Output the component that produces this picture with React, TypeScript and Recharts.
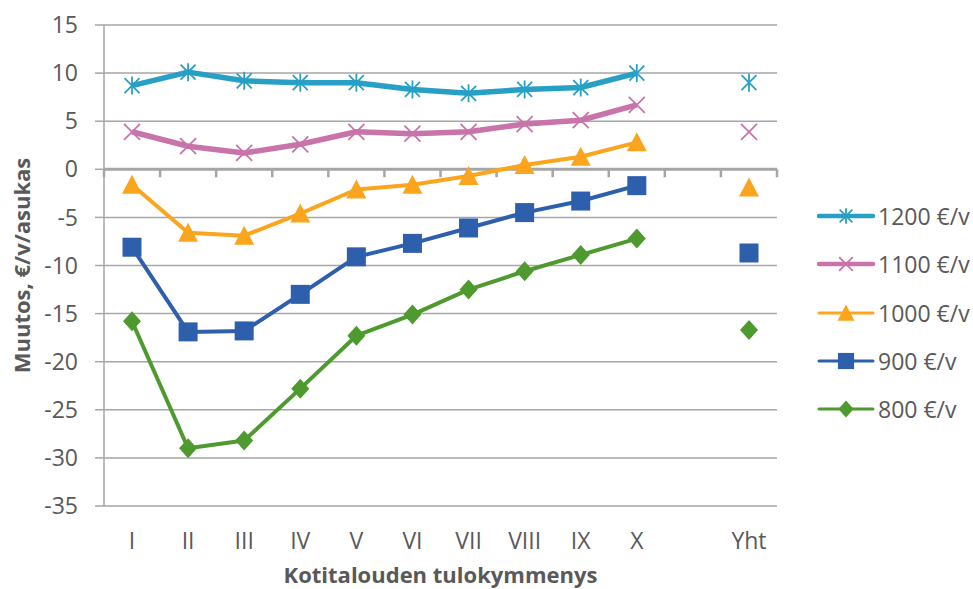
import React from 'react';
import { LineChart, Line, XAxis, YAxis, CartesianGrid, ReferenceLine } from 'recharts';

const categories = ['I', 'II', 'III', 'IV', 'V', 'VI', 'VII', 'VIII', 'IX', 'X', '', 'Yht'];

const s1200 = [8.7, 10.1, 9.2, 9.0, 9.0, 8.3, 7.9, 8.3, 8.5, 10.0, null, 9.0];
const s1100 = [3.9, 2.4, 1.7, 2.6, 3.9, 3.7, 3.9, 4.7, 5.1, 6.7, null, 3.9];
const s1000 = [-1.6, -6.6, -6.9, -4.6, -2.1, -1.6, -0.7, 0.45, 1.3, 2.8, null, -1.9];
const s900 = [-8.1, -16.9, -16.8, -13.0, -9.1, -7.7, -6.1, -4.5, -3.3, -1.7, null, -8.7];
const s800 = [-15.8, -29.0, -28.2, -22.8, -17.3, -15.1, -12.5, -10.6, -8.9, -7.2, null, -16.7];

const yTicks = [15, 10, 5, 0, -5, -10, -15, -20, -25, -30, -35];

const TEXT = '#595959';
const GRID = '#A6A6A6';
const FONT = '"Open Sans", sans-serif';

type Shape = 'star' | 'x' | 'triangle' | 'square' | 'diamond';

const series: { key: string; name: string; color: string; width: number; shape: Shape }[] = [
  { key: 's1200', name: '1200 €/v', color: '#28A0C6', width: 5.5, shape: 'star' },
  { key: 's1100', name: '1100 €/v', color: '#C874AA', width: 5.5, shape: 'x' },
  { key: 's1000', name: '1000 €/v', color: '#FBA51E', width: 4, shape: 'triangle' },
  { key: 's900', name: '900 €/v', color: '#2E5FAD', width: 4, shape: 'square' },
  { key: 's800', name: '800 €/v', color: '#4E9A2F', width: 4, shape: 'diamond' },
];

const data = categories.map((name, i) => ({
  name,
  s1200: s1200[i],
  s1100: s1100[i],
  s1000: s1000[i],
  s900: s900[i],
  s800: s800[i],
}));

function Marker({ cx, cy, shape, color, k = 1 }: { cx: number; cy: number; shape: Shape; color: string; k?: number }) {
  switch (shape) {
    case 'star':
      return (
        <g stroke={color} strokeWidth={1.8} fill="none">
          <line x1={cx} y1={cy - 9 * k} x2={cx} y2={cy + 9 * k} />
          <line x1={cx - 7.5 * k} y1={cy - 7.5 * k} x2={cx + 7.5 * k} y2={cy + 7.5 * k} />
          <line x1={cx - 7.5 * k} y1={cy + 7.5 * k} x2={cx + 7.5 * k} y2={cy - 7.5 * k} />
        </g>
      );
    case 'x':
      return (
        <g stroke={color} strokeWidth={1.8} fill="none">
          <line x1={cx - 8 * k} y1={cy - 8 * k} x2={cx + 8 * k} y2={cy + 8 * k} />
          <line x1={cx - 8 * k} y1={cy + 8 * k} x2={cx + 8 * k} y2={cy - 8 * k} />
        </g>
      );
    case 'triangle':
      return (
        <polygon
          fill={color}
          points={`${cx},${cy - 10 * k} ${cx + 10 * k},${cy + 9 * k} ${cx - 10 * k},${cy + 9 * k}`}
        />
      );
    case 'square':
      return <rect x={cx - 9.5 * k} y={cy - 9.5 * k} width={19 * k} height={19 * k} fill={color} />;
    default:
      return (
        <polygon
          fill={color}
          points={`${cx},${cy - 10 * k} ${cx + 9 * k},${cy} ${cx},${cy + 10 * k} ${cx - 9 * k},${cy}`}
        />
      );
  }
}

const makeDot = (shape: Shape, color: string, key: string) => (props: any) => {
  const { cx, cy, value, index } = props;
  if (value == null || cx == null || cy == null) return <g key={`${key}-${index}`} />;
  return (
    <g key={`${key}-${index}`}>
      <Marker cx={cx} cy={cy} shape={shape} color={color} />
    </g>
  );
};

// zero axis line with small category tick marks hanging below it
const ZeroAxis = (props: any) => {
  const { x1, y1, x2 } = props;
  const n = categories.length;
  const step = (x2 - x1) / n;
  const marks = [];
  for (let i = 0; i <= n; i++) {
    const x = x1 + i * step;
    marks.push(<line key={i} x1={x} y1={y1} x2={x} y2={y1 + 8} stroke={GRID} strokeWidth={2.5} />);
  }
  return (
    <g>
      <line x1={x1} y1={y1} x2={x2} y2={y1} stroke={GRID} strokeWidth={3} />
      {marks}
    </g>
  );
};

const ChartLegend = () => (
  <div style={{ position: 'absolute', left: 816, top: 192, fontFamily: FONT }}>
    {series.map(s => (
      <div key={s.key} style={{ display: 'flex', alignItems: 'center', height: 48.3 }}>
        <svg width={60} height={30} style={{ display: 'block' }}>
          <line x1={3} y1={15} x2={57} y2={15} stroke={s.color} strokeWidth={s.width - 1} strokeLinecap="round" />
          <Marker cx={30} cy={15} shape={s.shape} color={s.color} k={0.85} />
        </svg>
        <span style={{ fontSize: 23, color: TEXT, marginLeft: 2, whiteSpace: 'nowrap' }}>{s.name}</span>
      </div>
    ))}
  </div>
);

export default function App() {
  return (
    <div style={{ position: 'absolute', left: 0, top: 0, width: 973, height: 589, overflow: 'hidden', background: '#fff' }}>
      <LineChart
        width={973}
        height={589}
        data={data}
        margin={{ top: 25, right: 196, bottom: 0, left: 0 }}
        style={{ fontFamily: FONT }}
      >
        <CartesianGrid vertical={false} stroke={GRID} strokeWidth={1.5} />
        <XAxis
          dataKey="name"
          interval={0}
          padding={{ left: 28, right: 28 }}
          axisLine={false}
          tickLine={false}
          tickSize={0}
          tickMargin={27}
          height={83}
          tick={{ fill: TEXT, fontSize: 23 }}
          label={{
            value: 'Kotitalouden tulokymmenys',
            position: 'insideBottom',
            offset: 6,
            style: { fill: TEXT, fontSize: 22, fontWeight: 700 },
          }}
        />
        <YAxis
          width={104}
          domain={[-35, 15]}
          ticks={yTicks}
          interval={0}
          tickSize={9}
          tickMargin={17}
          axisLine={{ stroke: GRID, strokeWidth: 1.5 }}
          tickLine={{ stroke: GRID, strokeWidth: 1.5 }}
          tick={{ fill: TEXT, fontSize: 23 }}
          label={{
            value: 'Muutos, €/v/asukas',
            angle: -90,
            position: 'insideLeft',
            offset: 22,
            style: { fill: TEXT, fontSize: 22, fontWeight: 700, textAnchor: 'middle' },
          }}
        />
        <ReferenceLine y={0} shape={ZeroAxis} />
        {series.map(s => (
          <Line
            key={s.key}
            dataKey={s.key}
            name={s.name}
            stroke={s.color}
            strokeWidth={s.width}
            strokeLinejoin="round"
            dot={makeDot(s.shape, s.color, s.key)}
            activeDot={false}
            connectNulls={false}
            isAnimationActive={false}
          />
        ))}
      </LineChart>
      <ChartLegend />
    </div>
  );
}
